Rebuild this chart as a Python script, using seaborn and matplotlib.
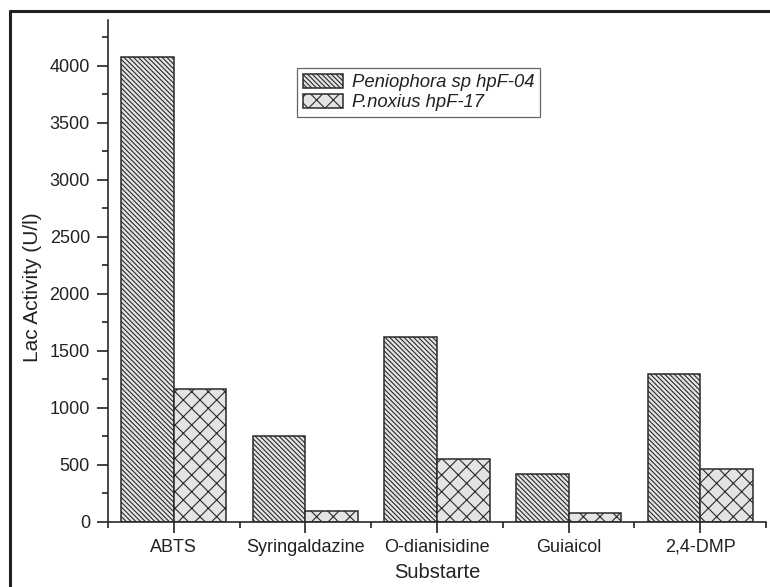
import matplotlib
matplotlib.use("Agg")
import matplotlib.pyplot as plt
import seaborn as sns
import pandas as pd
import numpy as np
from matplotlib.patches import Patch
from matplotlib.lines import Line2D
from matplotlib.ticker import MultipleLocator, FixedLocator

# ---- data ----
substrates = ["ABTS", "Syringaldazine", "O-dianisidine", "Guiaicol", "2,4-DMP"]
series_names = ["Peniophora sp hpF-04", "P.noxius hpF-17"]
peniophora = [4075, 756, 1622, 422, 1293]
pnoxius = [1167, 94, 551, 79, 463]

df = pd.DataFrame({
    "Substrate": substrates * 2,
    "Strain": [series_names[0]] * len(substrates) + [series_names[1]] * len(substrates),
    "Activity": peniophora + pnoxius,
})

sns.set_style("ticks")
plt.rcParams["font.family"] = ["Liberation Sans", "DejaVu Sans"]
plt.rcParams["hatch.linewidth"] = 0.8
plt.rcParams["text.color"] = "#222222"
plt.rcParams["axes.labelcolor"] = "#222222"
plt.rcParams["xtick.color"] = "#222222"
plt.rcParams["ytick.color"] = "#222222"

fig = plt.figure(figsize=(7.7, 5.87), dpi=100)
ax = fig.add_axes([108 / 770, 1 - 522 / 587, (766 - 108) / 770, (522 - 20) / 587])

fill = "#e4e4e4"
edge = "#2a2a2a"
hatches = ["\\" * 7, "xx"]

sns.barplot(data=df, x="Substrate", y="Activity", hue="Strain", order=substrates,
            hue_order=series_names, palette=[fill, fill], width=0.8,
            edgecolor=edge, linewidth=1.1, saturation=1, legend=False, ax=ax)

for cont, h in zip(ax.containers, hatches):
    for bar in cont:
        bar.set_hatch(h)
        bar.set_edgecolor(edge)
        bar.set_facecolor(fill)

ax.set_xlim(-0.5, len(substrates) - 0.5)
ax.set_ylim(0, 4400)
ax.yaxis.set_major_locator(MultipleLocator(500))
ax.yaxis.set_minor_locator(MultipleLocator(250))
ax.xaxis.set_minor_locator(FixedLocator(np.arange(-0.5, len(substrates), 1.0)))

sns.despine(ax=ax)
for s in ["left", "bottom"]:
    ax.spines[s].set_linewidth(1.2)
    ax.spines[s].set_color(edge)

ax.tick_params(axis="both", which="major", length=8, width=1.2, labelsize=13, direction="out")
ax.tick_params(axis="both", which="minor", length=4.5, width=1.2, direction="out")
ax.tick_params(axis="y", which="major", pad=5)
ax.tick_params(axis="x", which="major", pad=4)

ax.set_xlabel("Substarte", fontsize=14.5, labelpad=5)
ax.set_ylabel("Lac Activity (U/l)", fontsize=15)
ax.yaxis.set_label_coords(-0.100, 0.468)

handles = [Patch(facecolor=fill, edgecolor=edge, hatch=h, linewidth=1.1) for h in hatches]
leg = ax.legend(handles, series_names, loc="upper left", bbox_to_anchor=((297 - 108) / 658, (522 - 68) / 502),
                borderaxespad=0, frameon=True, fancybox=False, framealpha=1,
                prop={"style": "italic", "size": 13.3}, handlelength=2.2, handleheight=0.8,
                handletextpad=0.5, labelspacing=0.15, borderpad=0.3)
leg.get_frame().set_edgecolor("#666666")
leg.get_frame().set_linewidth(0.9)

# outer frame (top and left visible)
fig.add_artist(Line2D([10 / 770, 1.01], [1 - 11 / 587, 1 - 11 / 587], color="#222222", linewidth=2.2,
                      transform=fig.transFigure))
fig.add_artist(Line2D([10 / 770, 10 / 770], [-0.01, 1 - 11 / 587], color="#222222", linewidth=2.2,
                      transform=fig.transFigure))

fig.savefig("out.png", dpi=100)
